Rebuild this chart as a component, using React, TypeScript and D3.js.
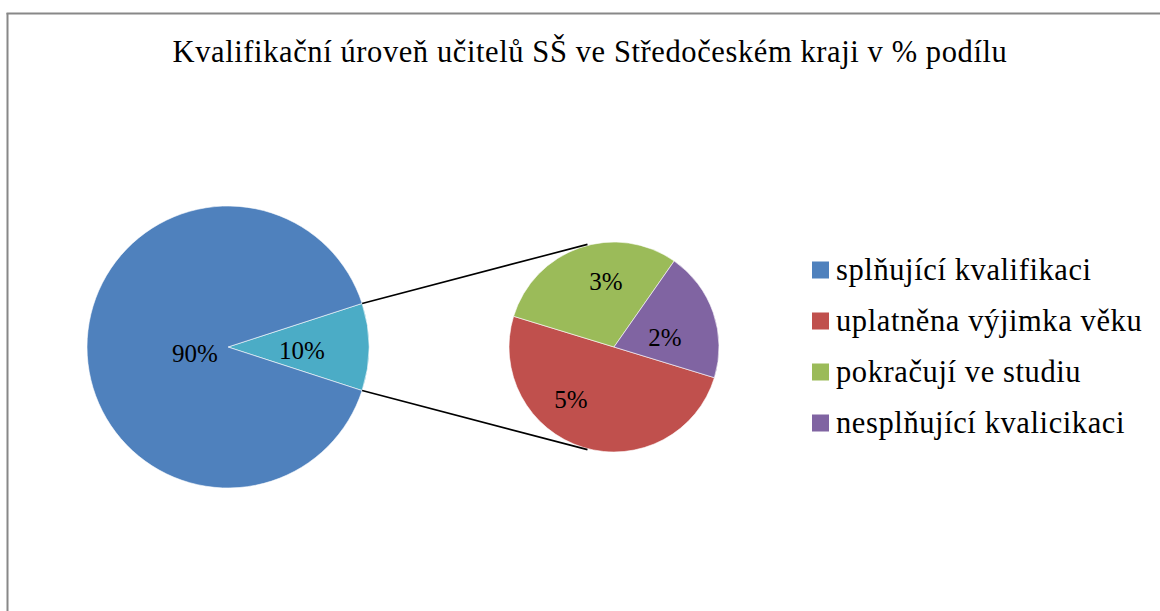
import React from "react";
import * as d3 from "d3";

const title = "Kvalifikační úroveň učitelů SŠ ve Středočeském kraji v % podílu";
const mainLabels = ["ostatní", "splňující kvalifikaci"];
const mainValues = [10, 90];
const mainColors = ["#4BACC6", "#4F81BD"];
const subLabels = ["uplatněna výjimka věku", "pokračují ve studiu", "nesplňující kvalicikaci"];
const subValues = [5, 3, 2];
const subColors = ["#C0504D", "#9BBB59", "#8064A2"];
const legendLabels = ["splňující kvalifikaci", "uplatněna výjimka věku", "pokračují ve studiu", "nesplňující kvalicikaci"];
const legendColors = ["#4F81BD", "#C0504D", "#9BBB59", "#8064A2"];

const W = 1160, H = 611;
const font = "'Liberation Serif', 'Times New Roman', serif";

export default function App() {
  const deg = Math.PI / 180;
  const c1 = { x: 228, y: 347 }, r1 = 141;
  const c2 = { x: 614, y: 347 }, r2 = 105;

  const mainPie = d3.pie<number>().sort(null).startAngle(72 * deg).endAngle(432 * deg)(mainValues);
  const subPie = d3.pie<number>().sort(null).startAngle(107 * deg).endAngle(467 * deg)(subValues);
  const arc1 = d3.arc<d3.PieArcDatum<number>>().innerRadius(0).outerRadius(r1);
  const arc2 = d3.arc<d3.PieArcDatum<number>>().innerRadius(0).outerRadius(r2);

  const pt = (c: { x: number; y: number }, r: number, a: number) => [c.x + r * Math.sin(a), c.y - r * Math.cos(a)];
  const small = mainPie[0];
  const p1a = pt(c1, r1, small.startAngle);
  const p1b = pt(c1, r1, small.endAngle);
  const p2a = pt(c2, r2 + 1, -14.5 * deg);
  const p2b = pt(c2, r2 + 1, 194.5 * deg);

  const mainLabelPos = [[302, 350], [195, 353]];
  const subLabelPos = [[571, 399], [606, 281], [665, 337]];

  const lx = 812;
  const ly = d3.scaleBand<string>().domain(legendLabels).range([244.5, 448.5]);

  return (
    <svg width={W} height={H} style={{ position: "absolute", left: 0, top: 0, background: "#fff" }}>
      <rect x={0} y={0} width={W} height={H} fill="#fff" />
      <line x1={7.5} y1={13} x2={7.5} y2={H} stroke="#888" strokeWidth={2} />
      <line x1={6.5} y1={13.5} x2={W} y2={13.5} stroke="#888" strokeWidth={2} />
      <text x={590} y={62} textAnchor="middle" fontFamily={font} fontSize={30.5} letterSpacing={0.6} fill="#000">{title}</text>
      <g transform={`translate(${c1.x},${c1.y})`}>
        {mainPie.map((d, i) => (
          <path key={i} d={arc1(d) || ""} fill={mainColors[i]} stroke="#fff" strokeWidth={0.6} />
        ))}
      </g>
      {mainPie.map((d, i) => (
        <text key={i} x={mainLabelPos[i][0]} y={mainLabelPos[i][1]} textAnchor="middle" dominantBaseline="central" fontFamily={font} fontSize={25}>
          {d.data}%
        </text>
      ))}
      <g transform={`translate(${c2.x},${c2.y})`}>
        {subPie.map((d, i) => (
          <path key={i} d={arc2(d) || ""} fill={subColors[i]} stroke="#fff" strokeWidth={0.6} />
        ))}
      </g>
      {subPie.map((d, i) => (
        <text key={i} x={subLabelPos[i][0]} y={subLabelPos[i][1]} textAnchor="middle" dominantBaseline="central" fontFamily={font} fontSize={25}>
          {d.data}%
        </text>
      ))}
      <line x1={p1a[0]} y1={p1a[1]} x2={p2a[0]} y2={p2a[1]} stroke="#000" strokeWidth={1.6} />
      <line x1={p1b[0]} y1={p1b[1]} x2={p2b[0]} y2={p2b[1]} stroke="#000" strokeWidth={1.6} />
      {legendLabels.map((l, i) => {
        const y = (ly(l) || 0) + ly.bandwidth() / 2;
        return (
          <g key={l}>
            <rect x={lx} y={y - 8.5} width={17} height={17} fill={legendColors[i]} />
            <text x={836} y={y + 10} fontFamily={font} fontSize={30.5} letterSpacing={0.6}>{l}</text>
          </g>
        );
      })}
    </svg>
  );
}
